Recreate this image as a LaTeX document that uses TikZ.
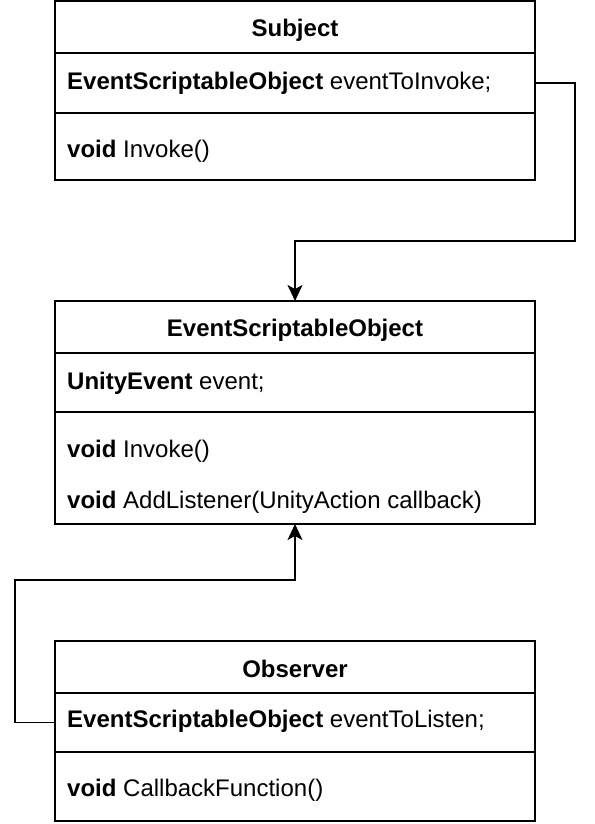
\documentclass[tikz,border=0pt]{standalone}
\usepackage{fontspec}
\setmainfont{Liberation Sans}
\usetikzlibrary{arrows.meta}

\tikzset{
  classbox/.style={draw=black, line width=1.6pt, minimum width=480pt, inner sep=0pt, outer sep=0pt, anchor=north west},
  classname/.style={font=\fontsize{24}{28}\selectfont\bfseries, inner sep=0pt},
  member/.style={anchor=west, inner sep=0pt, font=\fontsize{24}{28}\selectfont},
  link/.style={line width=1.6pt, -{Stealth[length=16pt,width=15pt,inset=4pt]}}
}

\begin{document}
\begin{tikzpicture}[x=1pt,y=-1pt]
\useasboundingbox (0,0) rectangle (594,824);

\node[classbox, minimum height=52pt] (subjhead) at (55,1) {};
\node[classbox, minimum height=60pt] (subjattr) at (subjhead.south west) {};
\node[classbox, minimum height=67pt] (subjops) at (subjattr.south west) {};
\node[classname] (subjname) at ([shift={(0,3)}]subjhead.center) {Subject};
\node[member] (subjfield) at ([xshift=12pt]subjattr.west) {\textbf{EventScriptableObject} eventToInvoke;};
\node[member] (subjinvoke) at ([shift={(12,5)}]subjops.west) {\textbf{void} Invoke()};

\node[classbox, minimum height=52pt] (esohead) at (55,301) {};
\node[classbox, minimum height=59pt] (esoattr) at (esohead.south west) {};
\node[classbox, minimum height=112pt] (esoops) at (esoattr.south west) {};
\node[classname] (esoname) at ([shift={(0,3)}]esohead.center) {EventScriptableObject};
\node[member] (esofield) at ([shift={(12,1)}]esoattr.west) {\textbf{UnityEvent} event;};
\node[member] (esoinvoke) at ([shift={(12,39)}]esoops.north west) {\textbf{void} Invoke()};
\node[member] (esoadd) at ([shift={(12,90)}]esoops.north west) {\textbf{void} AddListener(UnityAction callback)};

\node[classbox, minimum height=52pt] (obshead) at (55,641) {};
\node[classbox, minimum height=59pt] (obsattr) at (obshead.south west) {};
\node[classbox, minimum height=69pt] (obsops) at (obsattr.south west) {};
\node[classname] (obsname) at ([shift={(0,2)}]obshead.center) {Observer};
\node[member] (obsfield) at ([shift={(12,-1)}]obsattr.west) {\textbf{EventScriptableObject} eventToListen;};
\node[member] (obscallback) at ([shift={(12,4)}]obsops.west) {\textbf{void} CallbackFunction()};

\coordinate (invokebend) at (575,241);
\coordinate (listenbend) at (15,580);
\draw[link] (subjattr.east) -| (invokebend) -| (esohead.north);
\draw[link] (obsattr.west) -| (listenbend) -| (esoops.south);
\end{tikzpicture}
\end{document}
